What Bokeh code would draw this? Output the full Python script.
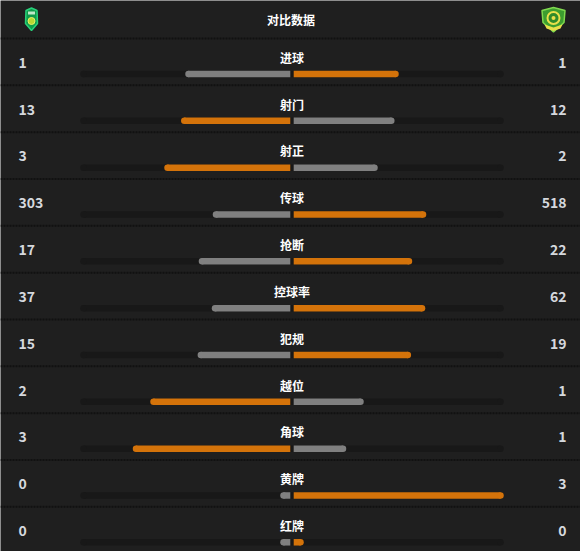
from bokeh.plotting import figure
from bokeh.models import ColumnDataSource, Range1d
from bokeh.core.properties import value
from bokeh.embed import file_html
from bokeh.resources import INLINE

# ---- data ----
categories = ["进球", "射门", "射正", "传球", "抢断", "控球率", "犯规", "越位", "角球", "黄牌", "红牌"]
home_values = [1, 13, 3, 303, 17, 37, 15, 2, 3, 0, 0]
away_values = [1, 12, 2, 518, 22, 62, 19, 1, 1, 3, 0]
title_text = "对比数据"

# ---- layout / style constants ----
W, H = 580, 551
BG = "#1f1f1f"
TRACK = "#181818"
SEP = "#111111"
ORANGE = "#d4730a"
GRAY = "#808080"
NUM_COL = "#d5d8dd"
FONT = value("Noto Sans CJK SC")

HEADER_H = 38.0
ROW_H = 46.83
CENTER = 291.5
GAP = 1.7
HALF = 210.0
TRACK_L = CENTER - GAP - HALF
TRACK_R = CENTER + GAP + HALF
BAR_H = 6.5
MIN_LEN = 10.0

p = figure(width=W, height=H, output_backend="svg", toolbar_location=None,
           x_range=Range1d(0, W), y_range=Range1d(H, 0), min_border=0)
p.axis.visible = False
p.grid.visible = False
p.outline_line_color = None
p.background_fill_color = BG
p.border_fill_color = BG

n = len(categories)
row_tops = [HEADER_H + ROW_H * i for i in range(n)]

# separators
p.segment(x0=[0] * n, x1=[W] * n, y0=row_tops, y1=row_tops,
          line_color=SEP, line_width=2, line_dash="2 1")

# header
p.text(x=[CENTER - 1], y=[19], text=[title_text], text_font=FONT, text_font_style="bold",
       text_font_size="12px", text_color="#ffffff", text_align="center", text_baseline="middle")

# left crest
p.patch(x=[25.5, 31, 36.5, 37, 31, 25], y=[10, 7.5, 10, 23, 30, 23],
        fill_color="#0f9a4a", line_color="#27d17a", line_width=1.5)
p.quad(left=[27.5], right=[34.5], top=[11], bottom=[14], fill_color="#bfe8c9", line_color=None)
p.scatter(x=[31], y=[20.5], size=7, fill_color="#b9d832", line_color="#e6ef6a", line_width=1)

# right crest
p.patch(x=[541.5, 553, 564.5, 563.5, 553, 542.5], y=[10, 7, 10, 22, 31.5, 22],
        fill_color="#3c9d2f", line_color="#7fd94f", line_width=1.5)
p.scatter(x=[553], y=[17.5], size=12, fill_color="#2f8a2a", line_color="#e8e04a", line_width=2)
p.scatter(x=[553], y=[17.5], size=4, fill_color="#e8e04a", line_color=None)
p.patch(x=[544, 553, 562, 560, 553, 546], y=[24, 27, 24, 28, 30.5, 28],
        fill_color="#e8e04a", line_color=None)

# rows
label_y = [t + 18.8 for t in row_tops]
bar_y = [t + 35.5 for t in row_tops]
num_y = [t + 23.8 for t in row_tops]

# tracks (rounded)
p.quad(left=[TRACK_L + 3] * n, right=[TRACK_R - 3] * n,
       top=[y - BAR_H / 2 for y in bar_y], bottom=[y + BAR_H / 2 for y in bar_y],
       fill_color=TRACK, line_color=None)
p.scatter(x=[TRACK_L + 3.2] * n + [TRACK_R - 3.2] * n, y=bar_y + bar_y, size=BAR_H,
          fill_color=TRACK, line_color=None)

# bars
lq = dict(left=[], right=[], top=[], bottom=[], color=[])
caps = dict(x=[], y=[], color=[])
for hv, av, yb in zip(home_values, away_values, bar_y):
    tot = hv + av
    lfrac = hv / tot if tot else 0
    rfrac = av / tot if tot else 0
    llen = max(lfrac * HALF, MIN_LEN)
    rlen = max(rfrac * HALF, MIN_LEN)
    if hv > av:
        lc, rc = ORANGE, GRAY
    else:
        lc, rc = GRAY, ORANGE
    lx0 = CENTER - GAP - llen
    rx1 = CENTER + GAP + rlen
    lq["left"] += [lx0 + 3, CENTER + GAP]
    lq["right"] += [CENTER - GAP, rx1 - 3]
    lq["top"] += [yb - BAR_H / 2] * 2
    lq["bottom"] += [yb + BAR_H / 2] * 2
    lq["color"] += [lc, rc]
    caps["x"] += [lx0 + 3.2, rx1 - 3.2]
    caps["y"] += [yb, yb]
    caps["color"] += [lc, rc]

p.quad(source=ColumnDataSource(lq), left="left", right="right", top="top", bottom="bottom",
       fill_color="color", line_color=None)
p.scatter(source=ColumnDataSource(caps), x="x", y="y", size=BAR_H,
          fill_color="color", line_color=None)

# labels
p.text(x=[CENTER] * n, y=label_y, text=categories, text_font=FONT, text_font_style="bold",
       text_font_size="12px", text_color="#ffffff", text_align="center", text_baseline="middle")
p.text(x=[18] * n, y=num_y, text=[str(v) for v in home_values], text_font=FONT,
       text_font_style="bold", text_font_size="14px", text_color=NUM_COL,
       text_align="left", text_baseline="middle")
p.text(x=[566] * n, y=num_y, text=[str(v) for v in away_values], text_font=FONT,
       text_font_style="bold", text_font_size="14px", text_color=NUM_COL,
       text_align="right", text_baseline="middle")

open("out.html", "w").write(file_html(p, INLINE))
